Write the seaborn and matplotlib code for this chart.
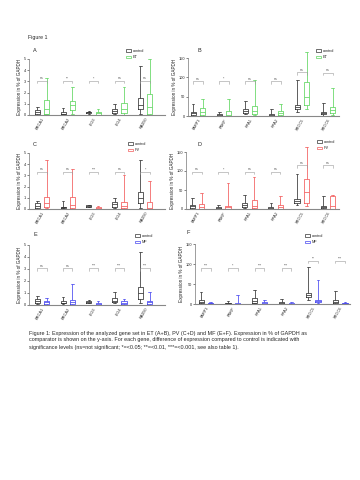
import matplotlib
matplotlib.use("Agg")
import matplotlib.pyplot as plt
from matplotlib.patches import Patch
import numpy as np
import pandas as pd
import seaborn as sns

sns.set_style("ticks")
plt.rcParams["font.family"] = ["Liberation Sans", "DejaVu Sans"]

# five-number summaries (min, q1, median, q3, max), % of GAPDH
genes_left = ["BRCA1", "BRCA2", "LIG3", "LIG4", "RAD50"]
genes_right = ["PARP1", "PNKP", "RPA1", "RPA2", "XRCC5", "XRCC6"]

ctrl_A = [[0.0, 0.12, 0.3, 0.47, 0.68], [0.03, 0.06, 0.12, 0.24, 0.62], [0.12, 0.18, 0.24, 0.3, 0.36],
          [0.06, 0.18, 0.38, 0.56, 0.98], [0.06, 0.53, 0.92, 1.5, 4.38]]
et_A = [[0.05, 0.12, 0.53, 1.36, 3.3], [0.12, 0.41, 0.86, 1.27, 2.5], [0.0, 0.0, 0.15, 0.3, 0.53],
        [0.0, 0.18, 0.56, 1.1, 2.5], [0.0, 0.12, 0.68, 1.86, 4.98]]
ctrl_B = [[1, 3, 7, 11, 31], [0, 1, 3, 5, 11], [5, 8, 13, 18, 39], [0, 1, 3, 5, 18],
          [11, 18, 24, 28, 94], [1, 4, 7, 11, 34]]
et_B = [[1, 3, 10, 20, 44], [0, 1, 3, 13, 44], [3, 6, 13, 27, 94], [1, 2, 7, 13, 31],
        [17, 29, 48, 88, 166], [2, 8, 16, 24, 73]]

ctrl_C = [[0.03, 0.12, 0.3, 0.5, 0.74], [0.06, 0.09, 0.15, 0.2, 0.68], [0.15, 0.18, 0.24, 0.33, 0.36],
          [0.06, 0.2, 0.41, 0.62, 0.98], [0.12, 0.56, 1.0, 1.54, 4.41]]
pv_C = [[0.06, 0.2, 0.53, 1.1, 4.38], [0.03, 0.06, 0.36, 1.1, 3.55], [0.0, 0.0, 0.06, 0.18, 0.27],
        [0.0, 0.06, 0.27, 0.59, 3.08], [0.0, 0.03, 0.06, 0.62, 2.5]]
ctrl_D = [[1, 2, 7, 10, 29], [0, 1, 3, 5, 10], [3, 6, 11, 17, 37], [0, 1, 3, 4, 16],
          [11, 17, 22, 26, 92], [1, 2, 4, 9, 33]]
pv_D = [[0, 1, 5, 13, 42], [0, 1, 5, 9, 69], [1, 3, 8, 23, 85], [0, 1, 4, 11, 35],
        [7, 16, 44, 79, 163], [0, 1, 8, 34, 37]]

ctrl_E = [[0.08, 0.17, 0.33, 0.5, 0.75], [0.08, 0.14, 0.2, 0.3, 0.69], [0.19, 0.19, 0.28, 0.36, 0.39],
          [0.14, 0.22, 0.36, 0.56, 1.06], [0.14, 0.53, 0.97, 1.53, 4.39]]
mf_E = [[0.03, 0.11, 0.22, 0.36, 0.56], [0.03, 0.08, 0.25, 0.42, 1.72], [0.0, 0.03, 0.08, 0.19, 0.33],
        [0.03, 0.08, 0.2, 0.3, 0.47], [0.03, 0.08, 0.22, 0.33, 1.08]]
ctrl_F = [[1, 2, 6, 10, 29], [0, 0.8, 1.7, 3.3, 7.5], [1.7, 3.3, 8, 14, 35], [0, 0.8, 2.5, 4, 12.5],
          [11, 17, 22, 27, 92], [1, 2, 4, 9, 33]]
mf_F = [[0, 1, 1.7, 2.5, 6], [0, 0, 0.8, 1.7, 22], [0, 0.8, 2.5, 4, 11], [0, 0, 0.8, 2.5, 5],
        [1.7, 5, 7.5, 10, 60], [0, 0.5, 1.5, 3, 6]]

sig_A = ["ns", "**", "*", "ns", "ns"]
sig_B = ["ns", "*", "ns", "ns", "ns", "ns"]
sig_C = ["ns", "ns", "***", "ns", "*"]
sig_D = ["ns", "*", "ns", "ns", "ns", "ns"]
sig_E = ["ns", "ns", "***", "***", "***"]
sig_F = ["***", "*", "***", "***", "**", "***"]
sigy_A = [3.05] * 5
sigy_B = [90, 90, 90, 90, 113, 112]
sigy_C = [3.3] * 5
sigy_D = [98, 98, 98, 98, 115, 115]
sigy_E = [3.05] * 5
sigy_F = [89, 89, 89, 89, 108, 108]

GREEN, RED, BLUE, BLACK = "#5fd65f", "#f25a5a", "#4646f0", "#333333"

# panel: (label, genes, ctrl, disease, name, colour, sig, sigy, ylim, yticks, px box l,r,t,b, xlim)
panels = [
    ("A", genes_left, ctrl_A, et_A, "ET", GREEN, sig_A, sigy_A, 5, [0, 1, 2, 3, 4, 5], (29, 165, 59, 115), (-0.5, 4.77)),
    ("B", genes_right, ctrl_B, et_B, "ET", GREEN, sig_B, sigy_B, 150, [0, 50, 100, 150], (188, 339, 58, 116), (-0.38, 5.42)),
    ("C", genes_left, ctrl_C, pv_C, "PV", RED, sig_C, sigy_C, 5, [0, 1, 2, 3, 4, 5], (29, 165, 153, 209), (-0.5, 4.77)),
    ("D", genes_right, ctrl_D, pv_D, "PV", RED, sig_D, sigy_D, 150, [0, 50, 100, 150], (186, 339, 152, 209), (-0.42, 5.42)),
    ("E", genes_left, ctrl_E, mf_E, "MF", BLUE, sig_E, sigy_E, 5, [0, 1, 2, 3, 4, 5], (29, 165, 245, 305), (-0.5, 4.77)),
    ("F", genes_right, ctrl_F, mf_F, "MF", BLUE, sig_F, sigy_F, 150, [0, 50, 100, 150], (195, 350, 244, 304), (-0.41, 5.37)),
]
label_pos = {"A": (33, 50), "B": (197, 50), "C": (33, 145), "D": (197, 145), "E": (33, 234), "F": (186, 233)}
legend_pos = {"A": (126, 49), "B": (316, 49), "C": (128, 142), "D": (317, 140), "E": (135, 234), "F": (305, 234)}

W, H = 360, 480
fig = plt.figure(figsize=(3.6, 4.8), dpi=100)
fig.text(28 / W, 1 - 38 / H, "Figure 1", fontsize=3.8, va="center")

for lab, genes, ctrl, dis, name, col, sig, sigy, ymax, yt, (l, r, t, b), xl in panels:
    ax = fig.add_axes([l / W, 1 - b / H, (r - l) / W, (b - t) / H])
    rows = []
    for g, c, d in zip(genes, ctrl, dis):
        rows += [(g, "control", v) for v in c]
        rows += [(g, name, v) for v in d]
    df = pd.DataFrame(rows, columns=["gene", "group", "value"])
    sns.boxplot(data=df, x="gene", y="value", hue="group", order=genes,
                hue_order=["control", name], palette=[BLACK, col], fill=False,
                whis=(0, 100), width=0.72, gap=0.45, linewidth=0.55, legend=False, ax=ax)
    for art in ax.lines + ax.patches:
        art.set_clip_on(False)
    ax.set_ylim(0, ymax)
    ax.set_xlim(*xl)
    ax.set_yticks(yt)
    ax.set_xlabel("")
    ax.set_ylabel("Expression in % of GAPDH", fontsize=3.3, labelpad=1)
    ax.tick_params(axis="y", labelsize=2.8, length=1.2, width=0.4, pad=1)
    ax.tick_params(axis="x", labelsize=2.8, length=0, pad=1.5)
    ax.set_xticks(range(len(genes)))
    ax.set_xticklabels(genes, rotation=60, ha="right", rotation_mode="anchor")
    sns.despine(ax=ax)
    ax.spines["left"].set_linewidth(0.5)
    ax.spines["left"].set_color("#777777")
    ax.spines["bottom"].set_linewidth(0.8)
    ax.spines["bottom"].set_color("#888888")
    # significance brackets
    for i, (s, y) in enumerate(zip(sig, sigy)):
        dy = ymax * 0.04
        ax.plot([i - 0.18, i - 0.18, i + 0.18, i + 0.18], [y - dy, y, y, y - dy],
                color="#999999", lw=0.4, clip_on=False)
        ax.text(i, y + ymax * 0.01, s, fontsize=2.5, ha="center", va="bottom", color="#555555")
    lx, ly = label_pos[lab]
    fig.text(lx / W, 1 - ly / H, lab, fontsize=4, va="center", ha="left")
    gx, gy = legend_pos[lab]
    handles = [Patch(facecolor="white", edgecolor=BLACK, lw=0.5, label="control"),
               Patch(facecolor="white", edgecolor=col, lw=0.5, label=name)]
    fig.legend(handles=handles, loc="upper left", bbox_to_anchor=(gx / W, 1 - gy / H),
               fontsize=2.8, frameon=False, handlelength=1.2, handleheight=0.6,
               handletextpad=0.5, labelspacing=0.6, borderpad=0, borderaxespad=0)

caption = ["Figure 1: Expression of the analyzed gene set in ET (A+B), PV (C+D) and MF (E+F). Expression in % of GAPDH as",
           "comparator is shown on the y-axis. For each gene, difference of expression compared to control is indicated with",
           "significance levels (ns=not significant; *=<0.05; **=<0.01, ***=<0.001, see also table 1)."]
for k, line in enumerate(caption):
    fig.text(29 / W, 1 - (333 + 7 * k) / H, line, fontsize=3.9, va="center", ha="left")

fig.savefig("out.png", dpi=100)
